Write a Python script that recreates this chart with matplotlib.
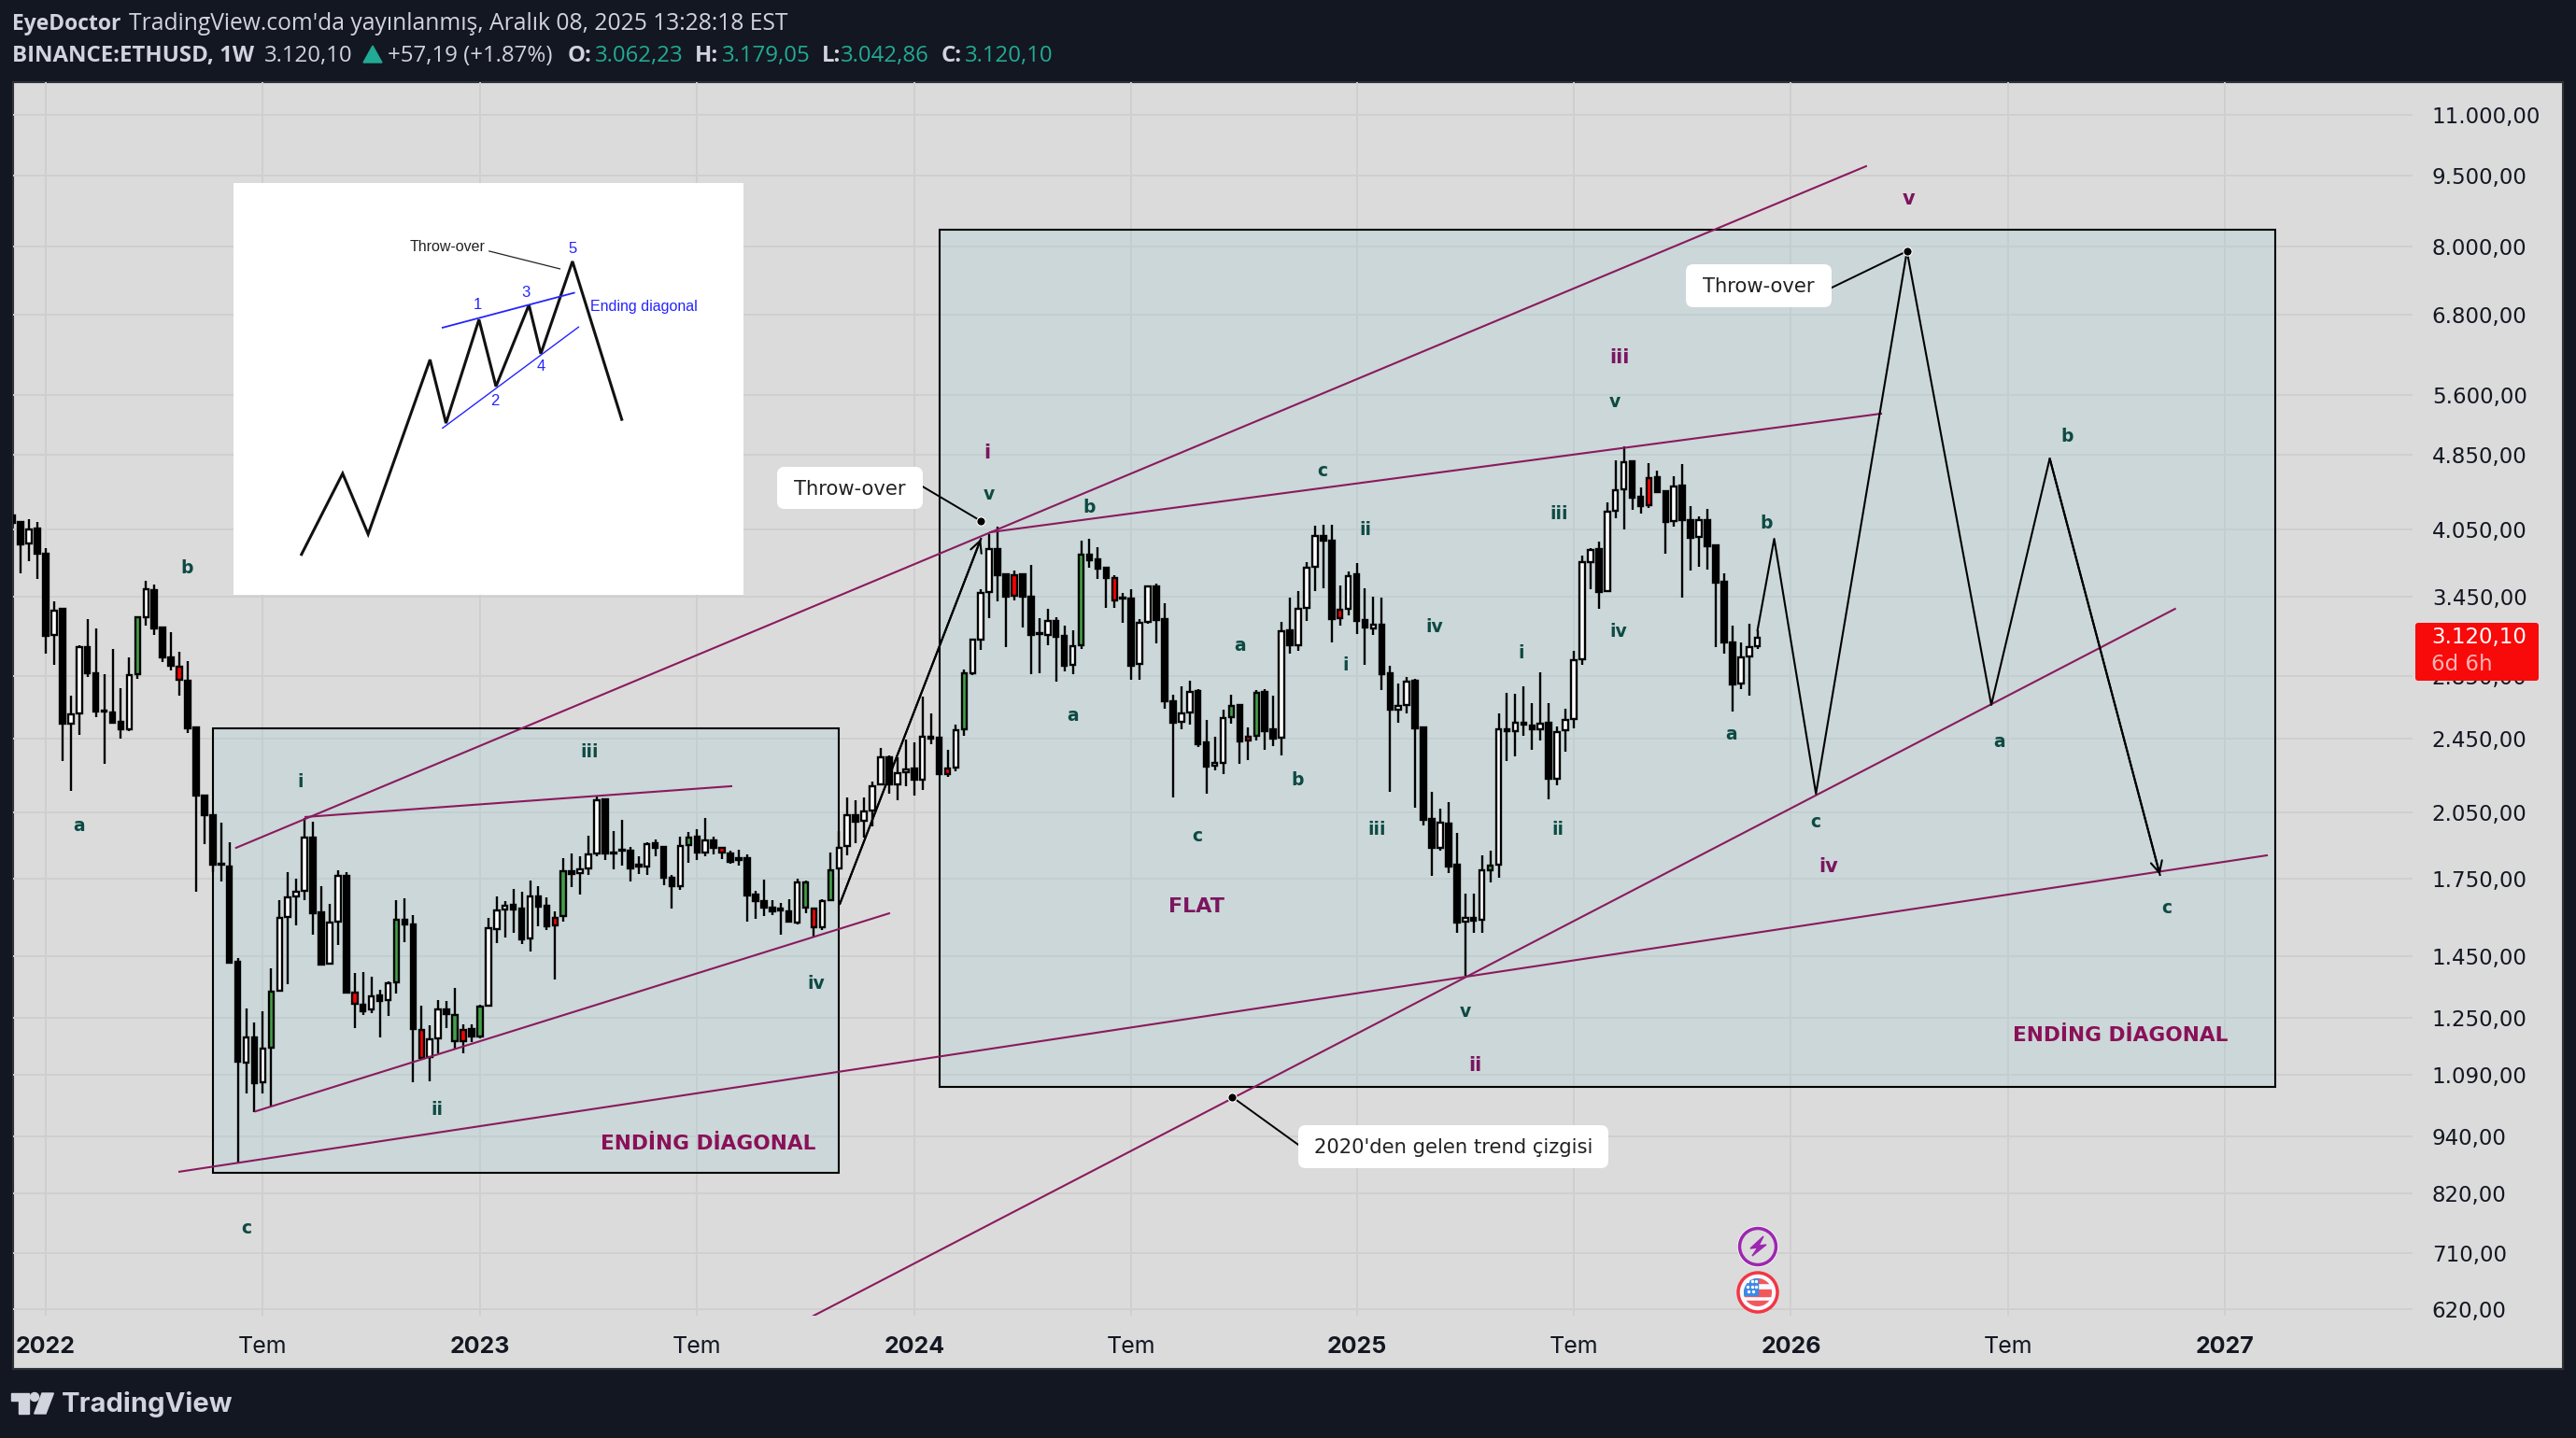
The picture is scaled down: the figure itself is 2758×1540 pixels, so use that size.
import numpy as np
import matplotlib
matplotlib.use('Agg')
import matplotlib.pyplot as plt
from matplotlib.patches import Rectangle, FancyBboxPatch, Circle, Polygon

W, H = 2758, 1540

# haftalik mumlar, hafta 0 = 2022 basi
first_week = -4
opens = [4192,4125,3918,4064,3820,3143,3348,2537,2605,3051,2865,2623,2611,2549,2508,2861,3283,3505,3198,2982,2911,2819,2517,2134,2036,1813,1799,1433,1124,1194,1071,1165,1335,1595,1675,1698,1929,1613,1425,1578,1762,1329,1291,1277,1320,1306,1364,1585,1566,1215,1138,1192,1278,1184,1215,1218,1197,1288,1549,1624,1641,1628,1514,1677,1639,1591,1598,1782,1772,1792,1857,2117,1864,1876,1872,1807,1801,1907,1887,1754,1718,1898,1933,1864,1918,1883,1857,1838,1836,1683,1656,1633,1626,1618,1575,1632,1628,1555,1662,1792,1892,2040,2010,2061,2193,2344,2196,2262,2278,2221,2460,2454,2282,2284,2506,2870,3109,3487,3869,3636,3631,3636,3445,3156,3144,3250,3135,2924,3067,3812,3769,3694,3609,3437,3430,2930,3242,3531,3264,2683,2551,2609,2746,2426,2294,2311,2580,2655,2463,2467,2739,2504,2454,3177,3065,3356,3702,3993,3948,3343,3348,3636,3257,3194,3220,2865,2627,2655,2817,2515,2018,1882,1999,1808,1577,1593,1583,1786,1809,2508,2493,2545,2530,2506,2543,2224,2500,2567,2964,3748,3863,3496,4236,4461,4776,4382,4590,4593,4444,4133,4501,4142,3978,4142,3898,3571,3086,2795,2984,3062.23]
highs = [4201,4139,4153,4125,3877,3406,3352,2714,3069,3268,3191,2858,3041,2765,2982,3287,3578,3546,3202,3169,3023,2955,2525,2134,2036,2003,1911,1446,1281,1236,1272,1410,1660,1778,1748,2026,2008,1716,1645,1786,1778,1393,1396,1380,1340,1367,1660,1669,1604,1287,1228,1305,1302,1346,1231,1231,1290,1593,1677,1656,1708,1693,1740,1716,1673,1618,1838,1857,1844,1938,2134,2119,1960,2017,1887,1844,1911,1920,1892,1764,1933,1956,1971,2022,1933,1885,1872,1874,1853,1698,1744,1660,1648,1666,1748,1740,1630,1664,1861,1960,2129,2114,2129,2211,2398,2352,2341,2443,2429,2711,2605,2454,2385,2532,2891,3114,3513,4011,4078,3636,3669,3636,3719,3272,3346,3279,3213,3177,3942,3960,3881,3702,3628,3479,3508,3264,3542,3555,3394,2721,2777,2814,2758,2561,2461,2625,2721,2655,2515,2754,2758,2717,3245,3437,3492,3744,4087,4099,4099,3539,3666,3735,3515,3445,3437,2917,2795,2844,2832,2519,2154,2069,2101,1951,1686,1686,1852,1869,2601,2734,2727,2781,2671,2871,2671,2524,2630,3028,3810,3873,3933,4323,4783,4947,4783,4481,4754,4666,4451,4604,4744,4284,4180,4255,3904,3647,3216,3086,3228,3179.05]
lows = [4083,3645,3751,3595,3003,2928,2320,2158,2474,2839,2578,2304,2537,2448,2496,2832,3213,3147,2948,2884,2714,2485,1693,1902,1778,1736,1425,883,1042,998,1044,1010,1335,1358,1562,1660,1527,1423,1425,1492,1327,1222,1259,1266,1194,1256,1326,1502,1072,1130,1075,1149,1222,1158,1150,1181,1192,1285,1499,1518,1537,1495,1467,1558,1544,1371,1576,1714,1685,1764,1847,1828,1790,1805,1736,1770,1764,1844,1720,1626,1704,1819,1828,1844,1853,1832,1815,1803,1576,1589,1600,1604,1530,1573,1566,1609,1523,1544,1660,1792,1851,1905,1931,1983,2188,2148,2114,2183,2136,2166,2415,2251,2236,2266,2469,2857,3035,3274,3412,3056,3419,3204,2863,2870,3070,2812,2880,2863,3042,3699,3601,3358,3358,3240,2825,2825,3233,3084,2635,2128,2508,2536,2403,2147,2272,2251,2542,2308,2328,2441,2387,2408,2355,3008,3029,3252,3497,3521,3091,3218,3299,3154,2928,3144,2756,2157,2546,2605,2076,1989,1759,1873,1771,1536,1383,1536,1536,1735,1751,2322,2350,2468,2386,2438,2119,2192,2376,2513,2928,3514,3352,3496,4167,4056,4249,4211,4271,4424,3823,4081,3440,3672,3705,3680,3054,3006,2615,2760,2717,3042.86]
closes = [4116,3913,4055,3820,3140,3337,2537,2599,3051,2865,2614,2617,2543,2508,2855,3280,3509,3191,2982,2918,2822,2514,2138,2036,1807,1809,1428,1125,1193,1070,1162,1332,1591,1671,1693,1931,1611,1423,1573,1762,1330,1294,1272,1318,1302,1361,1584,1566,1217,1137,1188,1277,1262,1259,1184,1196,1285,1551,1620,1639,1624,1513,1675,1635,1560,1564,1780,1770,1788,1855,2114,1857,1857,1870,1794,1801,1902,1883,1752,1718,1892,1931,1864,1916,1885,1861,1823,1830,1681,1656,1633,1615,1620,1576,1732,1732,1557,1658,1786,1885,2038,2008,2057,2186,2341,2193,2254,2275,2218,2462,2451,2251,2250,2502,2870,3107,3481,3869,3633,3445,3455,3445,3147,3149,3254,3132,2922,3061,3815,3766,3691,3609,3414,3430,2922,3240,3531,3262,2683,2547,2603,2744,2419,2292,2313,2576,2651,2435,2439,2737,2496,2452,3175,3070,3351,3699,3993,3942,3269,3272,3625,3254,3204,3223,2863,2625,2653,2812,2513,2016,1885,2002,1801,1575,1590,1582,1784,1805,2504,2496,2543,2532,2504,2539,2224,2491,2561,2959,3748,3860,3490,4232,4458,4769,4378,4291,4294,4431,4130,4498,4148,3975,4148,3895,3569,3091,2793,2981,3056,3120.1]
green_weeks = [11, 27, 42, 49, 52, 62, 77, 91, 94, 110, 124, 142, 145, 173]
red_weeks = [16, 37, 45, 50, 61, 81, 92, 108, 116, 128, 144, 155, 192]

# cizimler: (haftalar, fiyatlar)
up_channel = ([22.8, 218.0], [1884, 9715])
small_upper = ([31.1, 82.1], [2029, 2185])
small_lower = ([25.1, 101.0], [999, 1609])
bottom_long = ([16.0, 266.0], [864, 1850])
flat_upper = ([113.1, 219.8], [4026, 5356])
big_up = ([91.5, 255.0], [608, 3348])
rally = ([95.1, 112.0], [1646, 3963])
forecast = ([205.0, 207.0, 212.0, 222.9, 233.0, 240.0, 253.2], [3180, 3963, 2146, 7918, 2657, 4808, 1765])
box1 = ([20.0, 95.0], [2511, 862])
box2 = ([107.0, 267.0], [8338, 1060])
lead1 = ([105.0, 112.0], [4495, 4136])
lead2 = ([213.9, 222.9], [7254, 7918])
lead3 = ([150.0, 142.1], [922, 1034])

price_ticks = [11000, 9500, 8000, 6800, 5600, 4850, 4050, 3450, 2850, 2450, 2050, 1750, 1450, 1250, 1090, 940, 820, 710, 620]
price_labels = ['11.000,00', '9.500,00', '8.000,00', '6.800,00', '5.600,00', '4.850,00', '4.050,00', '3.450,00', '2.850,00', '2.450,00',
                '2.050,00', '1.750,00', '1.450,00', '1.250,00', '1.090,00', '940,00', '820,00', '710,00', '620,00']
time_ticks = [0, 26, 52, 78, 104, 130, 157, 183, 209, 235, 261]
time_labels = ['2022', 'Tem', '2023', 'Tem', '2024', 'Tem', '2025', 'Tem', '2026', 'Tem', '2027']

inset_x = [228, 349, 424, 606, 653, 750, 800, 897, 932, 1025, 1170]
inset_y = [1212, 952, 1147, 586, 790, 457, 672, 410, 567, 270, 778]

teal_labels = [('a', 48, 502), ('b', 114, 345), ('c', 150, 747), ('i', 183, 475), ('ii', 266, 675), ('iii', 359, 457), ('iv', 497, 598),
               ('v', 602, 300), ('a', 653, 435), ('b', 663, 308), ('c', 805, 286), ('a', 755, 392), ('b', 790, 474), ('c', 729, 508),
               ('ii', 831, 322), ('i', 819, 404), ('iii', 838, 504), ('iv', 873, 381), ('v', 892, 615), ('i', 926, 397), ('ii', 948, 504),
               ('iii', 949, 312), ('iv', 985, 384), ('v', 983, 244), ('a', 1054, 446), ('b', 1075, 318), ('c', 1105, 500), ('a', 1217, 451),
               ('b', 1258, 265), ('c', 1319, 552)]
purple_labels = [('i', 601, 275), ('ii', 898, 648), ('iii', 986, 217), ('iv', 1113, 527), ('v', 1162, 120)]

PURPLE = '#8a1a5e'
TEAL = '#0d4a43'
UI = 'Inter'
LIGHT = '#d1d4dc'
GREEN = '#22ab94'

fig = plt.figure(figsize=(27.58, 15.40), dpi=100, facecolor='#131722')
back = fig.add_axes([14/W, 1-1466/H, (2744-14)/W, (1466-88)/H], facecolor='#dbdbdb')
back.set_xticks([]); back.set_yticks([])
for s in back.spines.values():
    s.set_color('#2f3238'); s.set_linewidth(1.5)

ax = fig.add_axes([14/W, 1-1409/H, (2583-14)/W, (1409-88)/H])
ax.patch.set_alpha(0)
ax.set_yscale('log')
for s in ax.spines.values():
    s.set_visible(False)

weeks = list(range(first_week, first_week+len(closes)))
o = np.array(opens, float); c = np.array(closes, float)
colors = []
for wk, a, b in zip(weeks, opens, closes):
    if wk in green_weeks:
        colors.append('#43a047')
    elif wk in red_weeks:
        colors.append('#ff0000')
    elif b >= a:
        colors.append('white')
    else:
        colors.append('black')
ax.vlines(weeks, lows, highs, color='black', lw=1.7, zorder=3)
ax.bar(weeks, np.abs(c-o), bottom=np.minimum(o, c), width=0.62, color=colors, edgecolor='black', linewidth=1.7, zorder=4)

for b in (box1, box2):
    ax.add_patch(Rectangle((b[0][0], b[1][1]), b[0][1]-b[0][0], b[1][0]-b[1][1],
                           facecolor=(166/255, 206/255, 212/255, 0.3), edgecolor='black', lw=1.5, zorder=2))
for l in (up_channel, small_upper, small_lower, bottom_long, flat_upper, big_up):
    ax.plot(l[0], l[1], color=PURPLE, lw=1.5, zorder=5)
for path in (rally, forecast):
    ax.plot(path[0], path[1], color='black', lw=1.5, zorder=5)
    ax.annotate('', xy=(path[0][-1], path[1][-1]), xytext=(path[0][-2], path[1][-2]),
                arrowprops=dict(arrowstyle='->', color='black', lw=1.5, mutation_scale=22, shrinkA=0, shrinkB=0), zorder=5)
for l in (lead1, lead2, lead3):
    ax.plot(l[0], l[1], color='black', lw=1.4, zorder=5)
    ax.scatter(l[0][1], l[1][1], s=45, color='black', edgecolor='white', linewidth=0.8, zorder=6)

ax.set_xlim(-3.915, 283.45)
ax.set_ylim(611, 11893)
ax.yaxis.tick_right()
ax.set_yticks(price_ticks)
ax.set_yticklabels(price_labels, fontname='DejaVu Sans', fontsize=16.5, color='#131722')
ax.minorticks_off()
ax.set_xticks(time_ticks)
ax.set_xticklabels(time_labels, fontname=UI, fontsize=18, color='#131722')
for t, txt in zip(ax.get_xticklabels(), time_labels):
    if txt != 'Tem':
        t.set_fontweight('bold')
ax.tick_params(axis='both', length=0)
ax.tick_params(axis='y', pad=15)
ax.tick_params(axis='x', pad=16)
ax.grid(True, color='#cfcfcf', lw=1.4, zorder=0)
ax.set_axisbelow(True)

# kucuk sema
ins = fig.add_axes([250/W, 1-637/H, (796-250)/W, (637-196)/H], facecolor='white')
ins.set_xlim(28, 1528); ins.set_ylim(1342, 18)
ins.set_xticks([]); ins.set_yticks([])
for s in ins.spines.values():
    s.set_visible(False)
ins.plot(inset_x, inset_y, color='#111111', lw=2.2, solid_joinstyle='miter')
ins.plot([643, 1030], [483, 371], color='#2424ff', lw=1.3)
ins.plot([643, 1043], [806, 481], color='#2424ff', lw=1.0)
ins.plot([780, 988], [237, 294], color='#222222', lw=0.9)
inset_font = 'Liberation Sans'
ins.text(546, 225, 'Throw-over', fontname=inset_font, fontsize=11.5, color='#222222', va='center')
ins.text(1078, 416, 'Ending diagonal', fontname=inset_font, fontsize=11.5, color='#2424ff', va='center')
for txt, x, y in [('1', 747, 410), ('2', 797, 719), ('3', 889, 372), ('4', 932, 607), ('5', 1026, 230)]:
    ins.text(x, y, txt, fontname=inset_font, fontsize=12, color='#2424ff', ha='center', va='center')

# metinler ve ikonlar piksel olarak
ov = fig.add_axes([0, 0, 1, 1])
ov.set_xlim(0, W); ov.set_ylim(H, 0)
ov.axis('off')

def put(x, y, s, **kw):
    kw.setdefault('va', 'center')
    kw.setdefault('fontname', 'Open Sans')
    return ov.text(x, y, s, **kw)

put(13, 26, 'EyeDoctor', fontsize=16.5, color=LIGHT, fontweight='bold')
put(138, 26, "TradingView.com'da yayınlanmış, Aralık 08, 2025 13:28:18 EST", fontsize=17.7, color=LIGHT)
put(13, 60, 'BINANCE:ETHUSD, 1W', fontsize=17.3, color=LIGHT, fontweight='bold')
put(283, 60, '3.120,10', fontsize=17.3, color=LIGHT)
ov.add_patch(Polygon([(389, 67), (409, 67), (399, 49)], color=GREEN))
put(415, 60, '+57,19 (+1.87%)', fontsize=17.3, color=LIGHT)
for x, s in [(608, 'O:'), (744, 'H:'), (880, 'L:'), (1008, 'C:')]:
    put(x, 60, s, fontsize=17.3, color=LIGHT, fontweight='bold')
for x, s in [(637, '3.062,23'), (773, '3.179,05'), (900, '3.042,86'), (1033, '3.120,10')]:
    put(x, 60, s, fontsize=17.3, color=GREEN)

for s, x, y in teal_labels:
    put(x*1.759, y*1.759+1.5, s, fontname='DejaVu Sans', fontsize=13.5, fontweight='bold', color=TEAL, ha='center')
for s, x, y in purple_labels:
    put(x*1.759, y*1.759+1.5, s, fontname='DejaVu Sans', fontsize=15, fontweight='bold', color='#7b1560', ha='center')
put(758, 1225, 'ENDİNG DİAGONAL', fontname='DejaVu Sans', fontsize=15.6, fontweight='bold', color='#8a1058', ha='center')
put(2270, 1109, 'ENDİNG DİAGONAL', fontname='DejaVu Sans', fontsize=15.6, fontweight='bold', color='#8a1058', ha='center')
put(1281, 971, 'FLAT', fontname='DejaVu Sans', fontsize=16, fontweight='bold', color='#7b1560', ha='center')

for x0, y0, x1, y1, s in [(832, 500, 988, 545, 'Throw-over'), (1805, 283, 1961, 329, 'Throw-over'), (1390, 1205, 1722, 1251, "2020'den gelen trend çizgisi")]:
    ov.add_patch(FancyBboxPatch((x0, y0), x1-x0, y1-y0, boxstyle='round,pad=0,rounding_size=8', facecolor='white', edgecolor='none'))
    put((x0+x1)/2, (y0+y1)/2+1, s, fontname='DejaVu Sans', fontsize=15.2, color='#222222', ha='center')

ov.add_patch(FancyBboxPatch((2586, 667), 132, 62, boxstyle='round,pad=0,rounding_size=3', facecolor='#f90a0a', edgecolor='none'))
put(2603, 683, '3.120,10', fontname='DejaVu Sans', fontsize=16.5, color='white')
put(2603, 711, '6d 6h', fontname='DejaVu Sans', fontsize=16.5, color='#ffb3b3')

# ikonlar
ov.add_patch(Circle((1882, 1335), 22, facecolor='white', edgecolor='none'))
ov.add_patch(Circle((1882, 1335), 19.5, facecolor='#dbdbdb', edgecolor='#9c27b0', lw=2.5))
ov.add_patch(Polygon([(1888, 1324), (1874, 1337), (1882, 1336), (1876, 1345), (1891, 1333), (1883, 1334)], color='#9c27b0'))
ov.add_patch(Circle((1882, 1384), 21, facecolor='#f7f8fd', edgecolor='#f23645', lw=2.5))
clip = Circle((1882, 1384), 15, transform=ov.transData)
for y, h in [(1368, 6), (1381, 7), (1393, 7)]:
    r = Rectangle((1866, y), 32, h, color='#f0585c')
    ov.add_patch(r); r.set_clip_path(clip)
r = Rectangle((1866, 1368), 16, 19, color='#3b89e8')
ov.add_patch(r); r.set_clip_path(clip)
ov.scatter([1871, 1876, 1880, 1871, 1876, 1880, 1872, 1877], [1372, 1372, 1372, 1378, 1378, 1378, 1383, 1383], s=6, color='white', linewidth=0)

# logo
ov.add_patch(Polygon([(11.5, 1492), (30.6, 1492), (30.6, 1514), (20, 1514), (20, 1500), (11.5, 1500)], color=LIGHT))
ov.add_patch(Circle((37, 1496), 4.5, color=LIGHT))
ov.add_patch(Polygon([(45, 1492), (57.4, 1492), (49, 1514), (36.7, 1514)], color=LIGHT))
put(66, 1504, 'TradingView', fontname='Inter', fontsize=21, fontweight='bold', color=LIGHT)

fig.savefig('out.png', dpi=100, facecolor=fig.get_facecolor())
